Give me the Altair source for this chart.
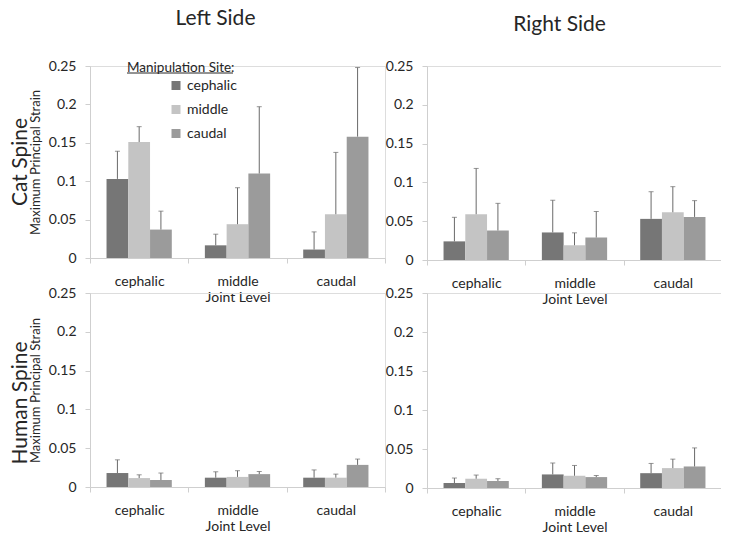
import altair as alt
import pandas as pd

levels = ["cephalic", "middle", "caudal"]
sites = ["cephalic", "middle", "caudal"]
site_colors = ["#767676", "#c4c4c4", "#9b9b9b"]
y_ticks = [0, 0.05, 0.1, 0.15, 0.2, 0.25]
row_titles = ["Cat Spine", "Human Spine"]
col_titles = ["Left Side", "Right Side"]

# values listed by joint level, then by manipulation site
cat_left_mean = [0.103, 0.151, 0.037, 0.0165, 0.044, 0.110, 0.011, 0.057, 0.158]
cat_left_sd = [0.036, 0.020, 0.024, 0.0145, 0.0475, 0.087, 0.023, 0.0805, 0.090]
cat_right_mean = [0.024, 0.059, 0.038, 0.0355, 0.019, 0.029, 0.053, 0.0615, 0.0555]
cat_right_sd = [0.031, 0.059, 0.035, 0.0415, 0.016, 0.0335, 0.035, 0.033, 0.021]
human_left_mean = [0.018, 0.0115, 0.009, 0.012, 0.013, 0.0166, 0.012, 0.012, 0.0285]
human_left_sd = [0.017, 0.0042, 0.009, 0.0076, 0.008, 0.0034, 0.010, 0.0046, 0.0075]
human_right_mean = [0.0064, 0.0119, 0.009, 0.0174, 0.0157, 0.014, 0.019, 0.0255, 0.0276]
human_right_sd = [0.0064, 0.0047, 0.0029, 0.0146, 0.0132, 0.002, 0.0125, 0.0115, 0.0238]

FONT = "Lato"
TXT = "#262626"
AX = "#cfcfcf"
ERR = "#6a6a6a"


def make_df(mean, sd):
    rows = []
    i = 0
    for lv in levels:
        for st in sites:
            rows.append({"level": lv, "site": st, "mean": mean[i], "top": mean[i] + sd[i]})
            i += 1
    return pd.DataFrame(rows)


def panel(mean, sd, height, left, legend=False, title=None, row_title=None, row_y=96):
    df = make_df(mean, sd)
    base = alt.Chart(df)
    xaxis = alt.Axis(title="Joint Level", labelAngle=0, tickBand="extent",
                     domainColor=AX, tickColor=AX, tickSize=5,
                     labelFontSize=14, labelColor=TXT, labelFont=FONT,
                     labelPadding=11, titleFontSize=14, titleFont=FONT,
                     titleFontWeight="normal", titleColor=TXT, titlePadding=2)
    x = alt.X("level:N", sort=levels, scale=alt.Scale(paddingInner=0, paddingOuter=0),
              axis=xaxis)
    xo = alt.XOffset("site:N", sort=sites, scale=alt.Scale(paddingInner=0, paddingOuter=0.76))
    yaxis = alt.Axis(values=y_ticks, format=".2~f", grid=False, domainColor=AX, tickColor=AX,
                     tickSize=5, labelFontSize=14, labelColor=TXT, labelFont=FONT,
                     labelPadding=9, labelOverlap=False, labelFlush=False,
                     title="Maximum Principal Strain" if left else None,
                     titleFontSize=13, titleFont=FONT, titleFontWeight="normal",
                     titleColor=TXT, titlePadding=6)
    yscale = alt.Scale(domain=[0, 0.25], nice=False)
    if legend:
        leg = alt.Legend(orient="none", legendX=37, legendY=-5, title="Manipulation Site:",
                         titleFontSize=13.5, titleFont=FONT, titleFontWeight="normal",
                         titleColor=TXT, titlePadding=4, labelFontSize=14, labelFont=FONT,
                         labelColor=TXT, symbolType="square", symbolSize=81,
                         symbolStrokeWidth=0, symbolOffset=42, rowPadding=10,
                         labelOffset=4, padding=0)
    else:
        leg = None
    color = alt.Color("site:N", sort=sites,
                      scale=alt.Scale(domain=sites, range=site_colors), legend=leg)
    bars = base.mark_bar().encode(x=x, xOffset=xo,
                                  y=alt.Y("mean:Q", scale=yscale, axis=yaxis),
                                  color=color)
    errs = base.mark_rule(color=ERR, strokeWidth=1).encode(
        x=x, xOffset=xo, y=alt.Y("mean:Q", scale=yscale, axis=yaxis), y2="top:Q")
    caps = base.mark_tick(color=ERR, orient="horizontal", size=5, thickness=1).encode(
        x=x, xOffset=xo, y=alt.Y("top:Q", scale=yscale, axis=yaxis))
    layers = [bars, errs, caps]
    if legend:
        ul = alt.Chart(pd.DataFrame({"u": [0]})).mark_rule(color=TXT, strokeWidth=1).encode(
            x=alt.value(37), x2=alt.value(143), y=alt.value(7))
        layers.append(ul)
    if row_title is not None:
        rt = alt.Chart(pd.DataFrame({"t": [row_title]})).mark_text(
            angle=270, fontSize=21, font=FONT, color=TXT, align="center", baseline="middle"
        ).encode(text="t:N", x=alt.value(-69), y=alt.value(row_y))
        layers.append(rt)
    ch = alt.layer(*layers).properties(width=295, height=height)
    if title is not None:
        ch = ch.properties(title=title)
    return ch


def col_title(text, dx, dy):
    return alt.TitleParams(text, fontSize=21, font=FONT, fontWeight="normal", color=TXT,
                           anchor="middle", offset=30, dx=dx, dy=dy)


tl = panel(cat_left_mean, cat_left_sd, 192, True, legend=True,
           title=col_title(col_titles[0], -22, 0), row_title=row_titles[0], row_y=96)
tr = panel(cat_right_mean, cat_right_sd, 194, False, title=col_title(col_titles[1], -15, 6))
bl = panel(human_left_mean, human_left_sd, 194, True, row_title=row_titles[1], row_y=110)
br = panel(human_right_mean, human_right_sd, 195, False)

chart = alt.concat(tl, tr, bl, br, columns=2) \
    .properties(bounds="flush", spacing={"row": 33, "column": 42},
                autosize=alt.AutoSizeParams(type="none"),
                padding={"left": 82, "top": 58, "right": 631, "bottom": 469}) \
    .resolve_scale(color="independent") \
    .configure_view(stroke=None) \
    .configure(font=FONT)

chart.save("out.html", embed_options={"renderer": "svg", "actions": False})
